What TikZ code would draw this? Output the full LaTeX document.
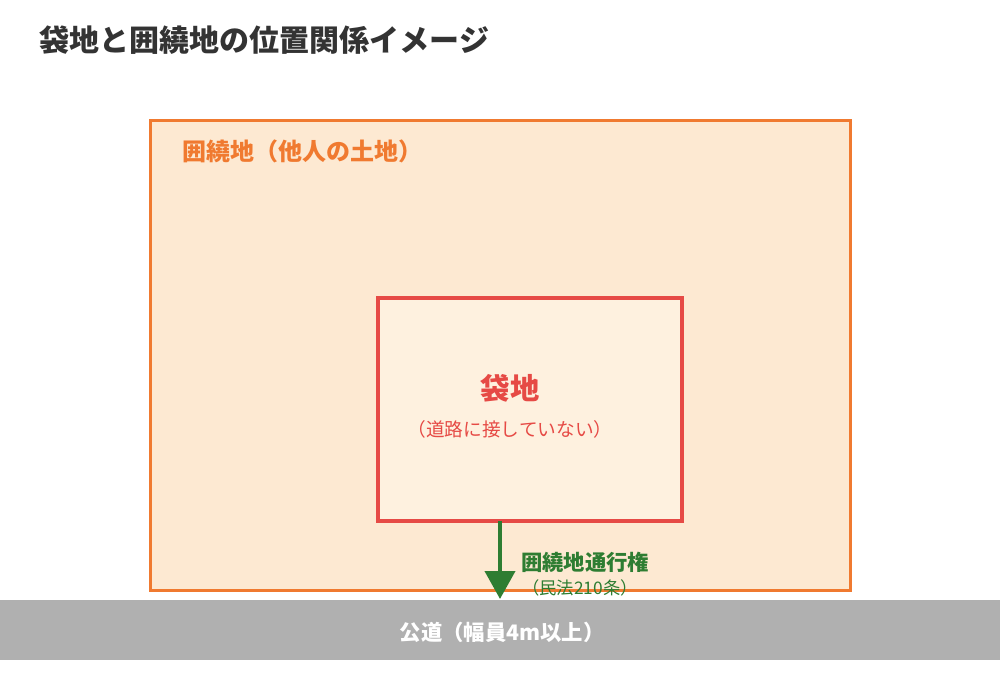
\documentclass[tikz,border=0pt]{standalone}
\usepackage{fontspec}
\setmainfont{Noto Sans CJK JP}
\usepackage{xcolor}
\usepackage{tikz}
\usetikzlibrary{
  arrows.meta,
  positioning
}
\definecolor{titlegray}{HTML}{333333}
\definecolor{outerfill}{HTML}{FDE9D2}
\definecolor{outerline}{HTML}{F07A30}
\definecolor{innerfill}{HTML}{FEF1DF}
\definecolor{innerline}{HTML}{E64A45}
\definecolor{rightgreen}{HTML}{2E7D32}
\definecolor{roadgray}{HTML}{B0B0B0}

\begin{document}
\begin{tikzpicture}[
    x=0.75pt, y=-0.75pt,
    every node/.style={inner sep=0pt, outer sep=0pt},
    area/.style={
      draw,
      anchor=north west,
      minimum width=#1
    },
    title/.style={
      anchor=west,
      font=\fontsize{22.5}{26}\selectfont\bfseries,
      text=titlegray
    },
    lbl/.style={
      font=\fontsize{#1}{#1}\selectfont
    },
    blbl/.style={
      font=\fontsize{#1}{#1}\selectfont\bfseries
    },
    ar/.style={-{Triangle[length=21pt, width=22.5pt]}, line width=3pt, rightgreen}
  ]
    \useasboundingbox (0,0) rectangle (1000,700);

    % Title
    \node[title] (ttl) at (40,40) {袋地と囲繞地の位置関係イメージ};

    % Outer land (囲繞地) and road
    \node[area=525pt, minimum height=352.5pt, fill=outerfill, draw=outerline,
          line width=2.25pt] (outer) at (150,120) {};
    \node[blbl=18, anchor=west, text=outerline] (outerlbl)
      at (182,151) {囲繞地（他人の土地）};

    \node[area=750pt, minimum height=45pt, fill=roadgray, draw=none] (road)
      at (0,600) {};
    \node[blbl=16, text=white] (roadlbl) at (502,632)
      {公道（幅員4m以上）};

    % Inner land (袋地)
    \node[area=228pt, minimum height=167.25pt, fill=innerfill, draw=innerline,
          line width=3pt] (inner) at (378,298) {};
    \node[blbl=22, text=innerline] (innerlbl) at (510,388) {袋地};
    \node[lbl=14, text=innerline, below=14pt of innerlbl] (innersub)
      {（道路に接していない）};

    % Right of way
    \coordinate (tip) at (500,599);
    \draw[ar] (inner.south -| tip) -- (tip);
    \node[blbl=16, anchor=west, text=rightgreen] (right)
      at (521,562) {囲繞地通行権};
    \node[lbl=13, text=rightgreen] (rightsub) at (580,588)
      {（民法210条）};

  \end{tikzpicture}
\end{document}
